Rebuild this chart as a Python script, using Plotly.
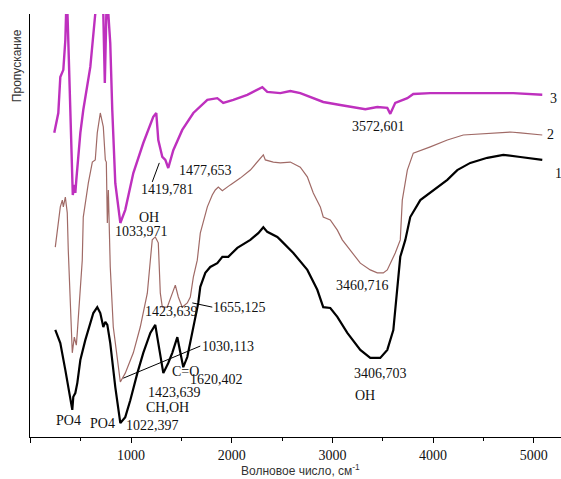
import plotly.graph_objects as go

# Wavenumber (cm^-1) and transmittance (arbitrary units, 0-100 visible)
wn3 = [238, 278, 298, 328, 348, 362, 377, 397, 417, 422, 437, 447, 457, 467, 497, 526, 596, 645, 685,
       725, 740, 755, 765, 775, 794, 814, 844, 894, 943, 1023, 1122, 1221, 1251, 1271, 1311, 1341, 1370,
       1420, 1509, 1619, 1758, 1857, 1916, 2016, 2155, 2304, 2353, 2483, 2582, 2681, 2810, 2909, 3078,
       3207, 3327, 3446, 3545, 3575, 3624, 3744, 3803, 3972, 4300, 4796, 5084]
t3 = [71.9, 76.6, 85.1, 86.8, 93.9, 105.7, 93.9, 77.3, 65.5, 57.2, 59.6, 57.7, 60.8, 63.8, 71.9, 77.3,
      87.5, 100, 110.4, 100, 83.7, 100, 106.9, 100, 93.1, 77.3, 60.0, 50.6, 53.7, 62.4, 69.5, 75.7,
      76.6, 70.2, 66.2, 65.5, 63.6, 67.8, 72.6, 76.6, 79.7, 80.1, 79.0, 79.7, 80.9, 82.7, 81.6, 81.3,
      81.8, 81.3, 80.1, 79.2, 78.5, 78.0, 77.5, 78.0, 77.8, 76.4, 79.0, 80.1, 81.1, 81.3, 81.3, 81.3, 80.9]

wn2 = [248, 278, 298, 318, 328, 348, 367, 377, 397, 417, 437, 457, 467, 497, 516, 526, 576, 616, 645,
       665, 695, 725, 745, 755, 765, 775, 794, 824, 894, 943, 1023, 1092, 1162, 1192, 1211, 1241, 1271,
       1291, 1311, 1360, 1410, 1440, 1470, 1509, 1559, 1589, 1619, 1658, 1688, 1758, 1807, 1837, 1867,
       1907, 1986, 2085, 2185, 2284, 2314, 2334, 2413, 2483, 2582, 2681, 2751, 2810, 2880, 2909, 2979,
       3049, 3098, 3277, 3376, 3446, 3505, 3545, 3624, 3674, 3694, 3744, 3803, 3972, 4141, 4300, 4637,
       4766, 4866, 5084]
t2 = [44.9, 51.3, 54.4, 56.0, 54.4, 56.7, 53.0, 44.2, 32.4, 19.9, 23.6, 21.7, 24.8, 34.0, 41.8, 52.0,
      60.0, 65.0, 65.5, 71.9, 76.6, 73.3, 65.5, 65.0, 50.6, 58.4, 40.2, 26.0, 13.0, 15.1, 19.9, 26.0,
      34.0, 41.8, 46.6, 47.3, 45.9, 34.0, 30.7, 30.7, 34.0, 35.9, 33.1, 30.7, 31.7, 33.1, 37.8, 41.8,
      48.2, 54.4, 57.2, 58.4, 59.1, 58.2, 59.6, 61.2, 63.1, 66.0, 66.7, 65.5, 65.0, 64.8, 65.0, 63.8,
      61.5, 57.7, 54.4, 52.0, 51.3, 48.9, 46.6, 41.1, 39.5, 38.8, 38.8, 39.5, 43.5, 46.6, 56.0, 63.1,
      67.1, 68.6, 70.2, 71.4, 71.9, 72.1, 71.9, 71.4]

wn1 = [248, 298, 348, 397, 417, 427, 447, 467, 497, 546, 596, 626, 665, 695, 725, 745, 765, 794, 844,
       894, 943, 993, 1063, 1122, 1192, 1241, 1271, 1321, 1370, 1410, 1460, 1490, 1519, 1559, 1589, 1619,
       1668, 1688, 1738, 1787, 1857, 1907, 1966, 2056, 2185, 2264, 2314, 2353, 2453, 2483, 2612, 2751,
       2850, 2909, 2979, 3049, 3148, 3277, 3376, 3475, 3545, 3605, 3644, 3674, 3724, 3773, 3873, 4002,
       4141, 4240, 4369, 4538, 4697, 4866, 5084]
t1 = [25.3, 22.2, 15.8, 8.7, 6.4, 9.5, 10.4, 12.8, 18.2, 22.9, 27.0, 29.3, 30.7, 29.3, 26.0, 27.2, 26.5,
      22.2, 11.8, 3.3, 4.7, 8.7, 15.1, 19.9, 24.6, 26.5, 22.2, 15.1, 17.5, 19.9, 23.6, 19.9, 16.5, 18.9,
      22.2, 26.0, 31.7, 35.5, 38.8, 40.2, 41.1, 42.6, 42.6, 44.7, 46.6, 48.2, 49.6, 48.5, 47.3, 46.6,
      43.5, 39.5, 34.8, 30.7, 30.5, 28.4, 24.6, 20.6, 18.7, 18.7, 20.6, 25.3, 34.8, 42.6, 46.6, 52.0,
      56.0, 58.4, 60.8, 63.1, 64.8, 66.0, 66.7, 66.2, 65.5]

x_ticks = [0, 1000, 2000, 3000, 4000, 5000]
x_ticktext = ["", "1000", "2000", "3000", "4000", "5000"]
x_origin_label = "0"
x_origin_label_y = -4.3

# Peak labels: (text, x, y)
labels = [
    ("3", 5193, 80.1), ("2", 5164, 71.4), ("1", 5243, 62.4),
    ("3572,601", 3456, 73.3), ("1477,653", 1738, 63.1), ("1419,781", 1360, 58.4),
    ("OH", 1182, 52.0), ("1033,971", 1102, 48.5),
    ("1423,639", 1400, 29.6), ("1655,125", 2075, 30.7), ("1030,113", 1966, 21.5),
    ("C=O", 1539, 15.6), ("1620,402", 1850, 13.6), ("1423,639", 1430, 10.6),
    ("CH,OH", 1360, 6.9), ("PO4", 377, 4.0), ("PO4", 715, 3.3), ("1022,397", 1211, 2.8),
    ("3460,716", 3297, 35.9), ("3406,703", 3476, 15.1), ("OH", 3327, 9.9),
]
# Leader lines: (x0, y0, x1, y1)
leaders = [
    (1281, 64.8, 1211, 60.3),
    (1609, 31.7, 1807, 30.7),
    (923, 13.9, 1688, 21.5),
]

fig = go.Figure()
fig.add_trace(go.Scatter(x=wn1, y=t1, mode="lines", line=dict(color="#000000", width=2.2), showlegend=False))
fig.add_trace(go.Scatter(x=wn2, y=t2, mode="lines", line=dict(color="#A06A66", width=1.2), showlegend=False))
fig.add_trace(go.Scatter(x=wn3, y=t3, mode="lines", line=dict(color="#BE30BE", width=2.4), showlegend=False))

# origin tick label drawn as a text trace below the axis
fig.add_trace(go.Scatter(x=[4], y=[x_origin_label_y], mode="text", text=[x_origin_label],
                         textposition="middle center", cliponaxis=False, showlegend=False,
                         hoverinfo="skip",
                         textfont=dict(family="Liberation Serif", size=14, color="#111")))

for txt, x, y in labels:
    fig.add_annotation(x=x, y=y, text=txt, showarrow=False, xanchor="center", yanchor="middle",
                       font=dict(family="Liberation Serif", size=14, color="#111"))
for x0, y0, x1, y1 in leaders:
    fig.add_shape(type="line", x0=x0, y0=y0, x1=x1, y1=y1, line=dict(color="#000", width=1))

fig.add_annotation(xref="paper", yref="paper", x=-0.0245, y=0.879, text="Пропускание", textangle=-90,
                   showarrow=False, xanchor="center", yanchor="middle",
                   font=dict(family="Liberation Sans", size=12, color="#333"))
fig.add_annotation(xref="paper", yref="paper", x=0.509, y=-0.078, text="Волновое число, см<sup>-1</sup>",
                   showarrow=False, xanchor="center", yanchor="middle",
                   font=dict(family="Liberation Sans", size=12, color="#333"))

fig.update_layout(
    width=561, height=479,
    margin=dict(l=30, r=0, t=14, b=42),
    paper_bgcolor="white", plot_bgcolor="white",
    xaxis=dict(range=[-3, 5270], tickvals=x_ticks, ticktext=x_ticktext, ticks="outside", ticklen=5,
               tickcolor="#000", showline=True, linecolor="#000", linewidth=1.2, showgrid=False,
               zeroline=False, automargin=False, ticklabeloverflow="allow",
               tickfont=dict(family="Liberation Serif", size=14, color="#111"),
               minor=dict(dtick=500, tick0=0, ticks="outside", ticklen=3, tickcolor="#000")),
    yaxis=dict(range=[0, 100], showticklabels=False, ticks="", showline=True, linecolor="#000",
               linewidth=1.2, showgrid=False, zeroline=False, automargin=False),
)

fig.write_html("out.html", config={"displayModeBar": False},
               post_script="document.body.style.margin='0';document.body.style.overflow='hidden';")
